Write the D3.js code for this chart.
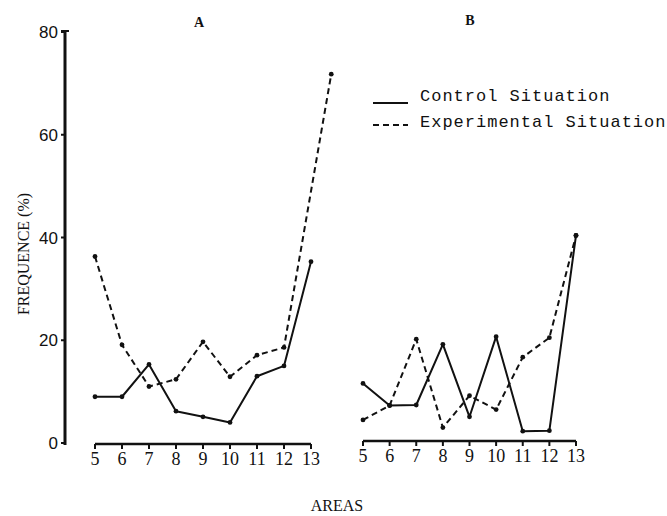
<!DOCTYPE html>
<html>
<head>
<meta charset="utf-8">
<script src="https://cdn.jsdelivr.net/npm/d3@7"></script>
<style>
  html, body { margin: 0; padding: 0; background: #fff; }
  svg { display: block; }
</style>
</head>
<body>
<svg id="chart" width="667" height="516"></svg>
<script>
// ---- data ----
const areas = [5, 6, 7, 8, 9, 10, 11, 12, 13];
const yTicks = [0, 20, 40, 60, 80];
const panelTitles = ["A", "B"];
const seriesNames = ["Control Situation", "Experimental Situation"];

const controlA = [9.0, 9.0, 15.3, 6.2, 5.1, 4.0, 13.0, 15.0, 35.3];
const experimentalA = [36.3, 19.1, 11.0, 12.4, 19.7, 12.9, 17.1, 18.6, 71.8];
// last experimental point of panel A is drawn to the right of area 13 in the original
const experimentalAx = [5, 6, 7, 8, 9, 10, 11, 12, 13.75];

const controlB = [11.6, 7.3, 7.4, 19.2, 5.1, 20.7, 2.3, 2.4, 40.4];
const experimentalB = [4.5, 7.3, 20.2, 3.0, 9.2, 6.5, 16.7, 20.5, 40.4];

// ---- layout ----
const svg = d3.select("#chart");
const ink = "#111";
const y = d3.scaleLinear().domain([0, 80]).range([443, 32]);
const xA = d3.scaleLinear().domain([5, 13]).range([95, 311]);
const xB = d3.scaleLinear().domain([5, 13]).range([363, 576]);

// y axis
const yAxis = svg.append("g").attr("transform", "translate(65,0)");
yAxis.append("line").attr("x1", 0).attr("x2", 0).attr("y1", y(80) - 2).attr("y2", y(0) + 2)
  .attr("stroke", ink).attr("stroke-width", 3);
yAxis.append("line").attr("x1", -4).attr("x2", 4).attr("y1", y(80) - 1).attr("y2", y(80) - 1)
  .attr("stroke", ink).attr("stroke-width", 2);
yAxis.selectAll("line.tk").data(yTicks).enter().append("line").attr("class", "tk")
  .attr("x1", -4).attr("x2", 0).attr("y1", d => y(d)).attr("y2", d => y(d))
  .attr("stroke", ink).attr("stroke-width", 2);
yAxis.selectAll("text").data(yTicks).enter().append("text")
  .attr("x", -7).attr("y", d => y(d)).attr("dy", "0.36em")
  .attr("text-anchor", "end")
  .attr("font-family", "Liberation Sans, Arial, sans-serif").attr("font-size", 17)
  .attr("fill", ink).text(d => d);

svg.append("text")
  .attr("transform", "translate(29,254) rotate(-90)")
  .attr("text-anchor", "middle")
  .attr("font-family", "Liberation Serif, Times New Roman, serif").attr("font-size", 16)
  .attr("fill", ink).text("FREQUENCE (%)");

// x axes
function xAxis(x, yPos) {
  const g = svg.append("g").attr("transform", `translate(0,${yPos})`);
  g.append("line").attr("x1", x(5)).attr("x2", x(13)).attr("y1", 0).attr("y2", 0)
    .attr("stroke", ink).attr("stroke-width", 2.5);
  g.selectAll("line.tk").data(areas).enter().append("line").attr("class", "tk")
    .attr("x1", d => x(d)).attr("x2", d => x(d)).attr("y1", 0).attr("y2", 5)
    .attr("stroke", ink).attr("stroke-width", 2);
  g.selectAll("text").data(areas).enter().append("text")
    .attr("x", d => x(d)).attr("y", 21)
    .attr("text-anchor", "middle")
    .attr("font-family", "Liberation Serif, Times New Roman, serif").attr("font-size", 18)
    .attr("fill", ink).text(d => d);
}
xAxis(xA, 444);
xAxis(xB, 441);

svg.append("text").attr("x", 337).attr("y", 511).attr("text-anchor", "middle")
  .attr("font-family", "Liberation Serif, Times New Roman, serif").attr("font-size", 16)
  .attr("fill", ink).text("AREAS");

// panel titles
svg.append("text").attr("x", 199).attr("y", 27).attr("text-anchor", "middle")
  .attr("font-family", "Liberation Serif, serif").attr("font-weight", "bold").attr("font-size", 14)
  .attr("fill", ink).text(panelTitles[0]);
svg.append("text").attr("x", 470).attr("y", 25).attr("text-anchor", "middle")
  .attr("font-family", "Liberation Serif, serif").attr("font-weight", "bold").attr("font-size", 14)
  .attr("fill", ink).text(panelTitles[1]);

// series
function series(xs, ys, x, dashed) {
  const pts = xs.map((d, i) => [d, ys[i]]);
  const line = d3.line().x(d => x(d[0])).y(d => y(d[1]));
  svg.append("path").datum(pts).attr("d", line)
    .attr("fill", "none").attr("stroke", ink).attr("stroke-width", 2)
    .attr("stroke-dasharray", dashed ? "6,4" : null)
    .attr("stroke-linejoin", "round");
  svg.append("g").selectAll("circle").data(pts).enter().append("circle")
    .attr("cx", d => x(d[0])).attr("cy", d => y(d[1])).attr("r", 2.4).attr("fill", ink);
}
series(areas, controlA, xA, false);
series(experimentalAx, experimentalA, xA, true);
series(areas, controlB, xB, false);
series(areas, experimentalB, xB, true);

// legend
const lg = svg.append("g");
lg.append("line").attr("x1", 373).attr("x2", 408).attr("y1", 103).attr("y2", 103)
  .attr("stroke", ink).attr("stroke-width", 2);
lg.append("line").attr("x1", 373).attr("x2", 408).attr("y1", 125).attr("y2", 125)
  .attr("stroke", ink).attr("stroke-width", 2).attr("stroke-dasharray", "6,4");
lg.selectAll("text").data(seriesNames).enter().append("text")
  .attr("x", 420).attr("y", (d, i) => 101 + i * 26)
  .attr("font-family", "Liberation Mono, Courier New, monospace").attr("font-size", 17)
  .attr("letter-spacing", 1).attr("fill", ink).text(d => d);
</script>
</body>
</html>
